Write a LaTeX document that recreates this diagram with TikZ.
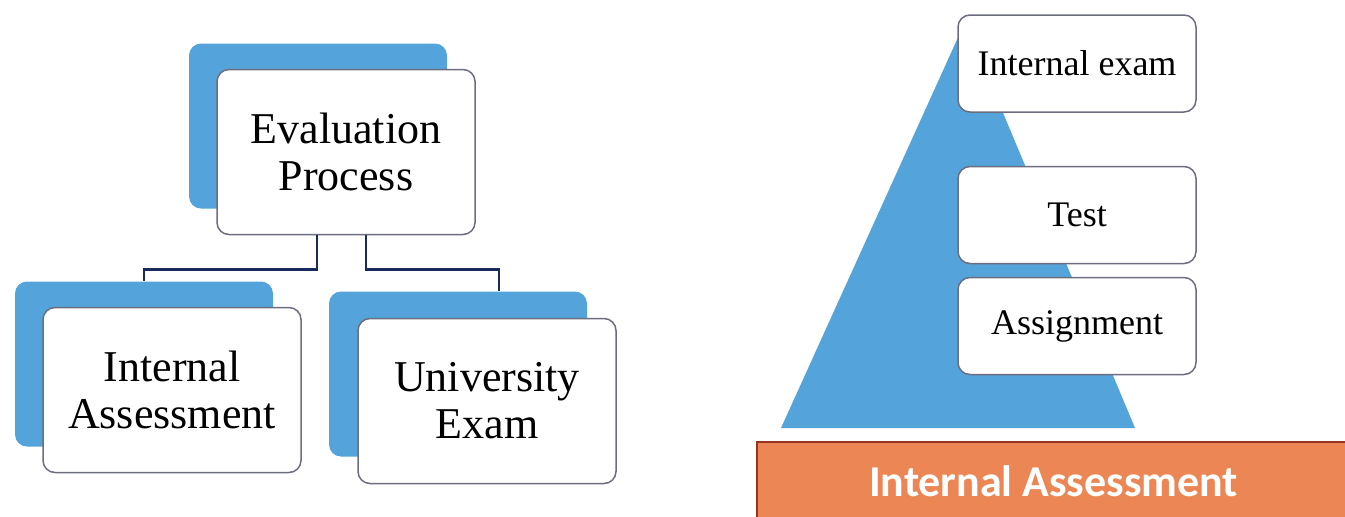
\documentclass[tikz,border=0pt]{standalone}
\usepackage{fontspec}
\setmainfont{Liberation Serif}
\newfontfamily\barfont{Carlito}
\usepackage{xcolor}
\usepackage{tikz}
\definecolor{scanblue}{RGB}{84,163,219}
\definecolor{boxline}{RGB}{108,110,128}
\definecolor{linknavy}{RGB}{24,44,92}
\definecolor{barorange}{RGB}{236,134,84}
\definecolor{baredge}{RGB}{150,52,30}
\tikzset{
    tnode/.style = {align=center, inner sep=0pt, text centered},
    backbox/.style = {tnode, rectangle, rounded corners=6pt, fill=scanblue, minimum width=129pt, minimum height=82.5pt},
    frontbox/.style = {tnode, rectangle, rounded corners=6pt, draw=boxline, fill=white, line width=0.75pt, minimum width=129pt, minimum height=82.5pt, font=\fontsize{22}{23.5}\selectfont},
    stepbox/.style = {tnode, rectangle, rounded corners=6pt, draw=boxline, fill=white, line width=0.75pt, minimum width=119pt, minimum height=48.5pt, font=\fontsize{18}{20}\selectfont},
    basebar/.style = {tnode, rectangle, fill=barorange, draw=baredge, line width=0.8pt, text=white, minimum width=296.5pt, minimum height=39pt, font=\barfont\bfseries\fontsize{22}{24}\selectfont},
    link/.style = {draw=linknavy, line width=1.3pt}
}
\begin{document}
\begin{tikzpicture}[x=0.5pt, y=-0.5pt]
    \useasboundingbox (0,0) rectangle (1345,516);
    % hierarchy
    \node [backbox] (evalback) at (318,126) {};
    \node [frontbox] (eval) at ([shift={(28,26)}]evalback.center) {Evaluation\\Process};
    \node [backbox] (iaback) at (144,364) {};
    \node [frontbox] (ia) at ([shift={(28,26)}]iaback.center) {Internal\\Assessment};
    \node [backbox] (ueback) at (458,374) {};
    \node [frontbox] (ue) at ([shift={(29,27)}]ueback.center) {University\\Exam};
    \draw [link] ([xshift=-14.5pt]eval.south) -- ++(0,34) -| (iaback.north);
    \draw [link] ([xshift=10pt]eval.south) -- ++(0,34) -| ([xshift=20.5pt]ueback.north);
    % pyramid
    \fill [scanblue] (781,428) -- (965,22) -- (1135,428) -- cycle;
    \node [stepbox] (iexam) at (1077,63.5) {Internal exam};
    \node [stepbox] (test) at (1077,215) {Test};
    \node [stepbox] (assign) at (1077,326) {Assignment};
    \node [basebar] (base) at (1053.5,481) {Internal Assessment};
\end{tikzpicture}
\end{document}
